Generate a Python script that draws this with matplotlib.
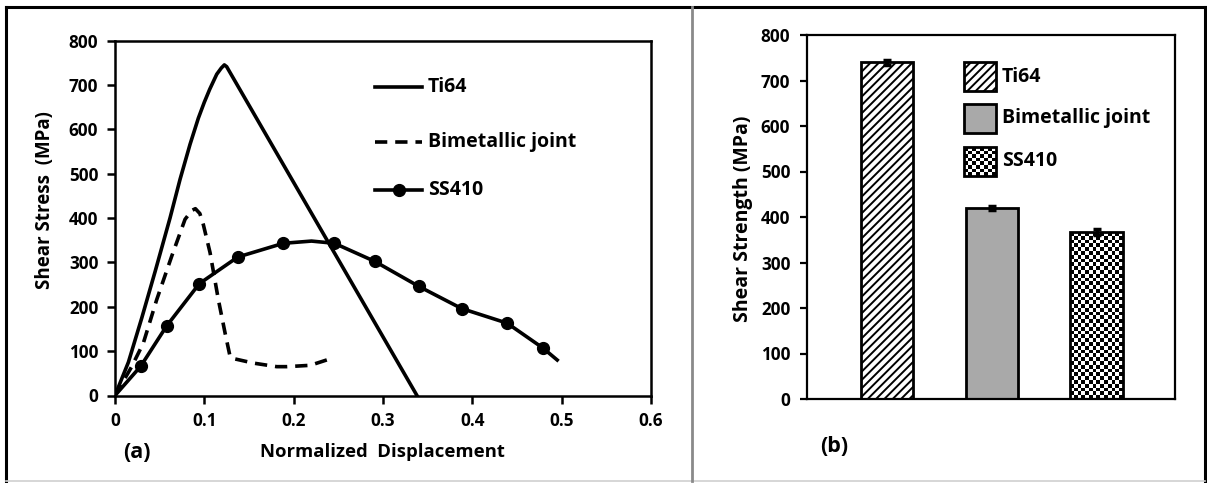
import numpy as np
import matplotlib
matplotlib.use("Agg")
import matplotlib.pyplot as plt
from matplotlib.lines import Line2D
from matplotlib.patches import Rectangle

plt.rcParams['font.family'] = ['Open Sans', 'DejaVu Sans']
plt.rcParams['font.weight'] = 'bold'

# ---------------- data ----------------
ti64_x = [0, 0.015, 0.03, 0.045, 0.0616, 0.0728, 0.084, 0.0933, 0.1000, 0.1060, 0.1139, 0.1190, 0.1224, 0.1250, 0.338]
ti64_y = [0, 75, 175, 280, 400, 487, 566, 625, 661, 690, 724, 738, 745, 741, 0]

bim_x = [0, 0.0187, 0.0317, 0.0467, 0.0635, 0.0784, 0.0860, 0.0900, 0.0950, 0.0989, 0.1064, 0.1157, 0.1232, 0.1288,
         0.133, 0.155, 0.181, 0.1925, 0.2185, 0.243]
bim_y = [0, 65, 118, 216, 314, 397, 417, 421, 410, 385, 322, 216, 141, 88,
         83, 73, 65, 65, 68, 84]

ss_x = [0, 0.0288, 0.0579, 0.0944, 0.1374, 0.1885, 0.22, 0.2456, 0.291, 0.340, 0.388, 0.439, 0.479, 0.495]
ss_y = [0, 66, 157, 252, 312, 343, 348, 343, 302, 246, 196, 163, 107, 80]
ss_marker_idx = [1, 2, 3, 4, 5, 7, 8, 9, 10, 11, 12]

series_names = ["Ti64", "Bimetallic joint", "SS410"]
strength = [740, 420, 367]
strength_err = [5, 4, 7]

x_ticks = [0, 0.1, 0.2, 0.3, 0.4, 0.5, 0.6]
x_ticklabels = ["0", "0.1", "0.2", "0.3", "0.4", "0.5", "0.6"]
y_ticks = [0, 100, 200, 300, 400, 500, 600, 700, 800]

# ---------------- figure ----------------
W, H = 1207, 483
fig = plt.figure(figsize=(W / 100, H / 100), dpi=100)

def fx(px):
    return px / W

def fy(py):
    return 1 - py / H

# outer frame
fig.add_artist(Line2D([fx(6), fx(6)], [fy(7), fy(481)], color='black', lw=2.2))
fig.add_artist(Line2D([fx(6), fx(1205)], [fy(7), fy(7)], color='black', lw=2.2))
fig.add_artist(Line2D([fx(1205), fx(1205)], [fy(7), fy(481)], color='black', lw=2.2))
fig.add_artist(Line2D([fx(6), fx(1205)], [fy(481), fy(481)], color='#cfcfcf', lw=1.2))
fig.add_artist(Line2D([fx(692), fx(692)], [fy(7), fy(481)], color='#8a8a8a', lw=2.0))

tick_fs = 12.3
# ---------------- left panel ----------------
axL = fig.add_axes([fx(115), fy(395.5), fx(651 - 115), (395.5 - 40.5) / H])
lw = 2.6
dash = (0, (3.4, 2.2))
axL.plot(ti64_x, ti64_y, color='black', lw=lw, solid_joinstyle='round')
axL.plot(bim_x, bim_y, color='black', lw=lw, linestyle=dash)
axL.plot(ss_x, ss_y, color='black', lw=lw, marker='o', markersize=8.5,
         markevery=ss_marker_idx)
axL.set_xlim(0, 0.6)
axL.set_ylim(0, 800)
axL.set_xticks(x_ticks)
axL.set_xticklabels(x_ticklabels)
axL.set_yticks(y_ticks)
axL.tick_params(direction='out', length=6, width=1.8, labelsize=tick_fs, pad=6)
for s in axL.spines.values():
    s.set_linewidth(1.8)
fig.text(fx(44.6), fy(200.5), "Shear Stress  (MPa)", fontsize=13.5, fontweight='bold',
         rotation=90, ha='center', va='center')
fig.text(fx(382.5), fy(452), "Normalized  Displacement", fontsize=13.3, fontweight='bold',
         ha='center', va='center')
fig.text(fx(137), fy(453), "(a)", fontsize=15.5, fontweight='bold', ha='center', va='center')

# manual legend (left)
leg_y = [87, 142, 190]
styles = [dict(linestyle='-'), dict(linestyle=dash), dict(linestyle='-')]
for i, name in enumerate(series_names):
    yy = fy(leg_y[i])
    fig.add_artist(Line2D([fx(375), fx(422)], [yy, yy], color='black', lw=lw, **styles[i]))
    if i == 2:
        fig.add_artist(Line2D([fx(398.5)], [yy], color='black', marker='o', markersize=8.5, lw=0))
    fig.text(fx(428), yy, name, fontsize=14, fontweight='bold', va='center', ha='left')

# ---------------- right panel ----------------
axR = fig.add_axes([fx(807), fy(399), fx(1175 - 807), (399 - 35) / H])
pos = np.arange(len(series_names))
face = ['white', '#a9a9a9', 'white']
plt.rcParams['hatch.linewidth'] = 1.4
bars = axR.bar(pos, strength, width=0.5, color=face, edgecolor='black', linewidth=2.0,
               zorder=2)
bars[0].set_hatch('////')

def checker(nx, ny):
    return np.indices((ny, nx)).sum(axis=0) % 2

# checkerboard fill for SS410 bar
b = bars[2]
x0, y0, bw, bh = b.get_x(), b.get_y(), b.get_width(), b.get_height()
cell_px = 3.8
ncols = int(round(53 / cell_px))
nrows = int(round(bh * (364 / 800) / cell_px))
im = axR.imshow(checker(ncols, nrows), cmap='gray', interpolation='nearest',
                extent=[x0, x0 + bw, y0, y0 + bh], aspect='auto', zorder=1.5, vmin=0, vmax=1)
im.set_clip_path(b)
b.set_facecolor('none')

axR.errorbar(pos, strength, yerr=strength_err, fmt='none', ecolor='black',
             elinewidth=2.5, capsize=3, capthick=2.5, zorder=3)
axR.set_xlim(-0.764, 2.749)
axR.set_ylim(0, 800)
axR.set_yticks(y_ticks)
axR.set_xticks([])
axR.tick_params(axis='y', direction='out', length=5, width=1.6, labelsize=tick_fs, pad=7)
for s in axR.spines.values():
    s.set_linewidth(1.6)
fig.text(fx(743), fy(218.5), "Shear Strength (MPa)", fontsize=14, fontweight='bold',
         rotation=90, ha='center', va='center')
fig.text(fx(834), fy(446), "(b)", fontsize=15.5, fontweight='bold', ha='center', va='center')

# manual legend (right)
patch_top = [62, 104, 147]
for i, name in enumerate(series_names):
    top = patch_top[i]
    r = Rectangle((fx(964), fy(top + 29)), fx(32), 29 / H, transform=fig.transFigure,
                  facecolor=face[i], edgecolor='black', linewidth=2.0, zorder=5)
    if i == 0:
        r.set_hatch('////')
    fig.add_artist(r)
    if i == 2:
        r.set_facecolor('none')
        axc = fig.add_axes([fx(964), fy(top + 29), fx(32), 29 / H], zorder=4)
        axc.imshow(checker(8, 8), cmap='gray', interpolation='nearest', aspect='auto',
                   vmin=0, vmax=1)
        axc.axis('off')
    fig.text(fx(1002), fy(top + 14.5), name, fontsize=14, fontweight='bold',
             va='center', ha='left')

fig.savefig("out.png", dpi=100)
